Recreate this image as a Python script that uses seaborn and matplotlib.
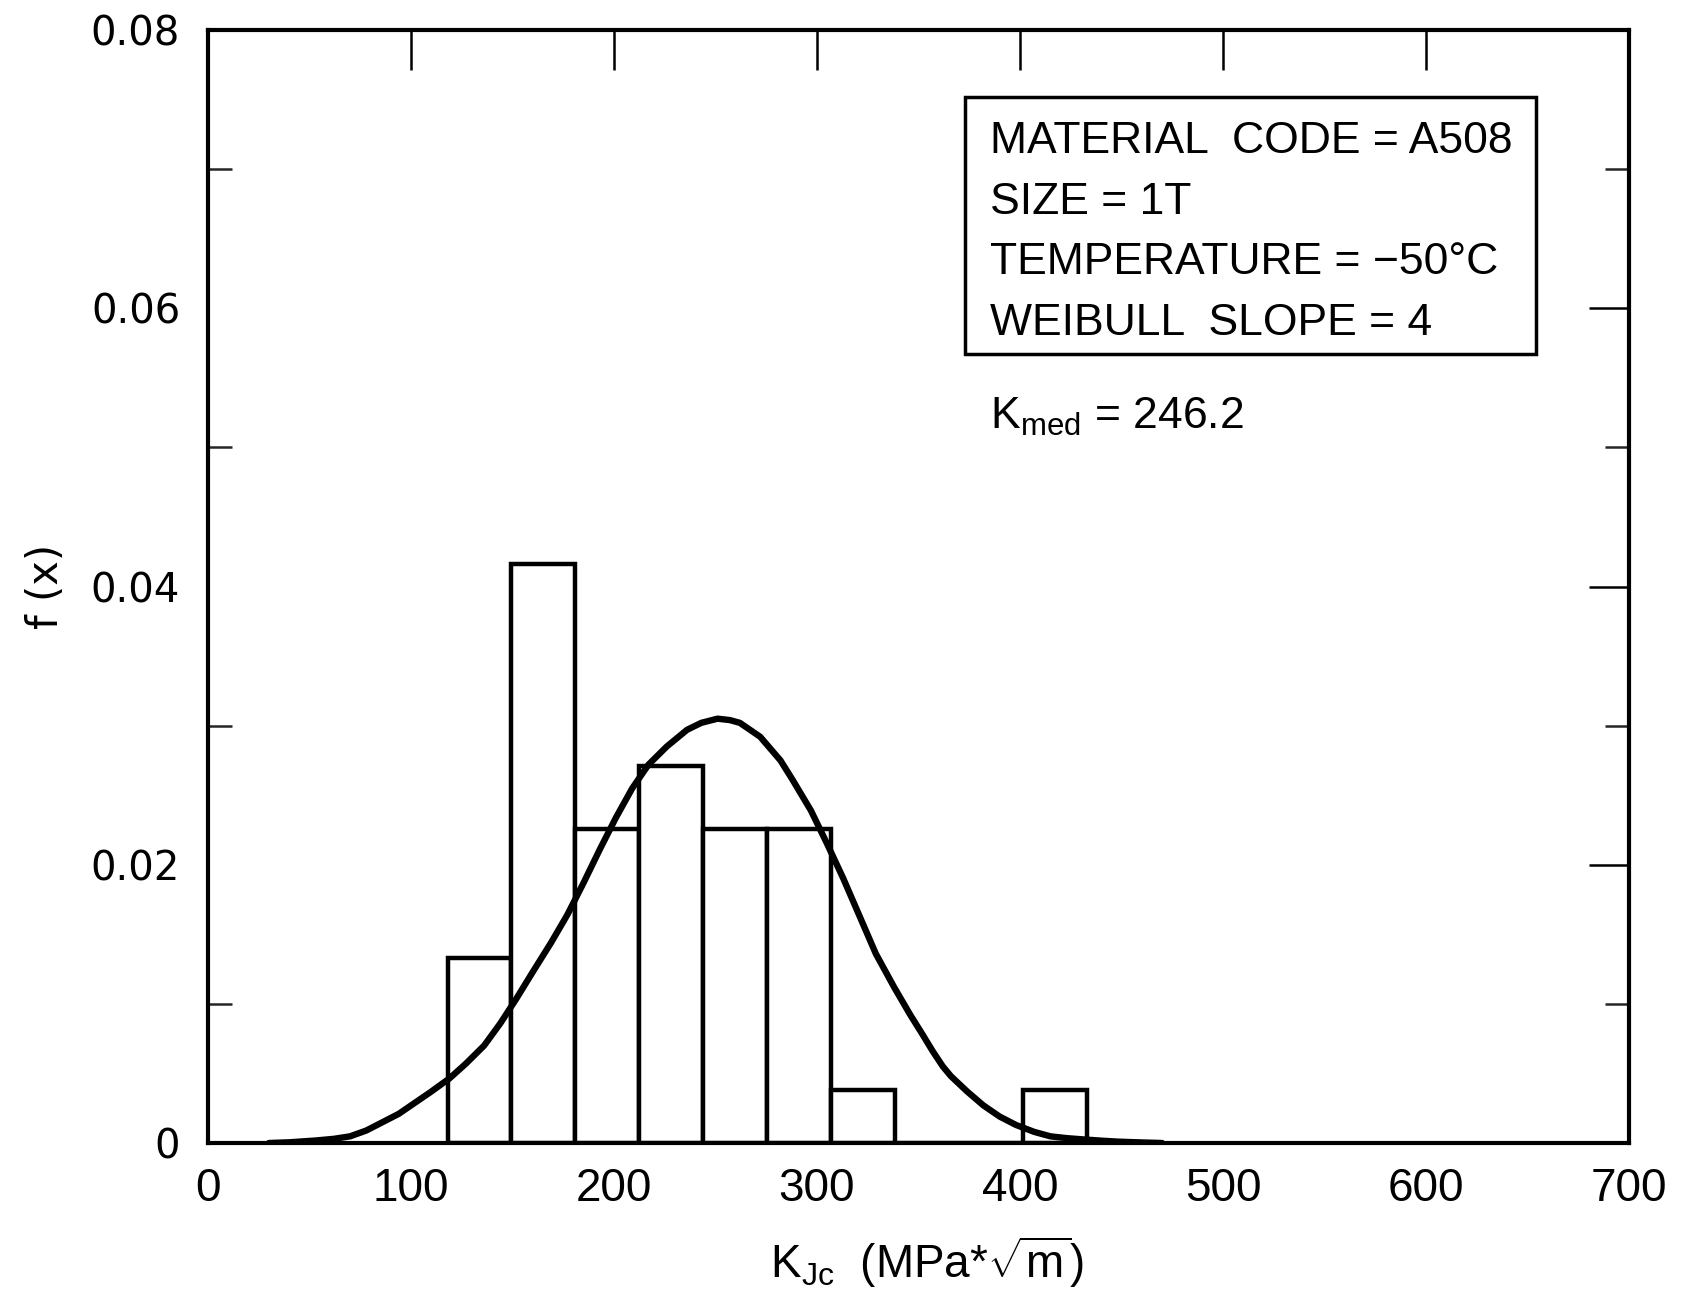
import numpy as np
import pandas as pd
import matplotlib
matplotlib.use("Agg")
import matplotlib.pyplot as plt
import seaborn as sns
from matplotlib.patches import Rectangle
from matplotlib.ticker import MultipleLocator
from matplotlib import font_manager

# ---- data ----
bin_edges = [118.0, 149.5, 181.0, 212.5, 244.0, 275.5, 307.0, 338.5, 370.0, 401.5, 433.0]
bin_heights = [0.0133, 0.0416, 0.0226, 0.0271, 0.0226, 0.0226, 0.0038, 0.0, 0.0, 0.0038]

curve_k = [30, 40, 53, 62, 70, 78, 86, 94, 101, 110, 119, 127, 136, 144, 152, 160, 169,
           177, 185, 193, 201, 209, 217, 226, 236, 243, 251, 257, 262, 272, 282, 288,
           297, 305, 313, 321, 329, 338, 346, 352, 357, 362, 366, 374, 382, 390, 398,
           407, 415, 423, 431, 440, 448, 460, 470]
curve_f = [0.0, 0.00005, 0.00018, 0.0003, 0.00048, 0.0009, 0.0015, 0.0021, 0.0028,
           0.0037, 0.00465, 0.0057, 0.0070, 0.0086, 0.0104, 0.0123, 0.0144, 0.0164,
           0.0187, 0.0211, 0.0234, 0.0255, 0.0272, 0.0285, 0.0297, 0.0302, 0.0305,
           0.0304, 0.0302, 0.0292, 0.0275, 0.0261, 0.0239, 0.0215, 0.0190, 0.0163,
           0.0136, 0.0112, 0.0092, 0.0078, 0.0066, 0.0055, 0.0048, 0.0037, 0.0027,
           0.0019, 0.0013, 0.0008, 0.00048, 0.00035, 0.00026, 0.00017, 0.0001,
           0.00004, 0.0]

x_ticks = [0, 100, 200, 300, 400, 500, 600, 700]
x_ticklabels = ["0", "100", "200", "300", "400", "500", "600", "700"]
y_ticks = [0.0, 0.02, 0.04, 0.06, 0.08]
y_ticklabels = ["0", "0.02", "0.04", "0.06", "0.08"]

info_lines = ["MATERIAL  CODE = A508", "SIZE = 1T", "TEMPERATURE = \u221250\u00b0C", "WEIBULL  SLOPE = 4"]
kmed_text = r"K$_{\mathrm{med}}$ = 246.2"
xlabel_text = r"K$_{\mathrm{Jc}}$  (MPa*$\sqrt{\mathrm{m}}$)"
ylabel_text = "f (x)"

# ---- style ----
sns.set_style("white")
plt.rcParams["font.family"] = ["DejaVu Sans"]
plt.rcParams["text.color"] = "black"
plt.rcParams["axes.labelcolor"] = "black"
available = {f.name for f in font_manager.fontManager.ttflist}
narrow = "Liberation Sans Narrow" if "Liberation Sans Narrow" in available else "Liberation Sans"
plt.rcParams["mathtext.fontset"] = "custom"
plt.rcParams["mathtext.rm"] = narrow
plt.rcParams["mathtext.it"] = narrow + ":italic"
plt.rcParams["mathtext.bf"] = narrow + ":bold"

fig = plt.figure(figsize=(16.94, 12.93), dpi=100)
ax = fig.add_axes([0.1228, 0.1160, 0.9616 - 0.1228, 0.9768 - 0.1160])

centers = [(bin_edges[i] + bin_edges[i + 1]) / 2 for i in range(len(bin_heights))]
hist_df = pd.DataFrame({"k": centers, "w": bin_heights})
sns.histplot(data=hist_df, x="k", weights="w", bins=bin_edges, stat="count",
             element="bars", fill=True, color="white", edgecolor="black",
             linewidth=3.2, alpha=1.0, ax=ax, zorder=2)

curve_df = pd.DataFrame({"k": curve_k, "f": curve_f})
sns.lineplot(data=curve_df, x="k", y="f", color="black", linewidth=4.6, ax=ax, zorder=3,
             solid_joinstyle="round", solid_capstyle="round")

ax.set_xlim(0, 700)
ax.set_ylim(0, 0.08)
ax.set_xticks(x_ticks)
ax.set_xticklabels(x_ticklabels, fontfamily=narrow, fontsize=33)
ax.set_yticks(y_ticks)
ax.set_yticklabels(y_ticklabels, fontfamily="DejaVu Sans", fontsize=29)
ax.yaxis.set_minor_locator(MultipleLocator(0.01))

ax.tick_params(axis="both", which="major", direction="in", top=True, right=True,
               labeltop=False, labelright=False, width=1.8, color="black",
               labelcolor="black")
ax.tick_params(axis="y", which="major", length=29, pad=20)
ax.tick_params(axis="x", which="major", length=29, pad=17)
ax.tick_params(axis="y", which="minor", direction="in", left=True, right=True,
               length=17, width=1.8)

for s in ax.spines.values():
    s.set_visible(True)
    s.set_linewidth(3.0)
    s.set_color("black")

ax.set_xlabel(xlabel_text, fontsize=33, fontfamily=narrow, color="black")
ax.set_ylabel(ylabel_text, fontsize=30, fontfamily="DejaVu Sans", color="black")
ax.xaxis.set_label_coords(0.506, -0.082)
ax.yaxis.set_label_coords(-0.099, 0.50)

# info box
ax.add_patch(Rectangle((0.5327, 0.7089), 0.9346 - 0.5327, 0.9398 - 0.7089,
                       transform=ax.transAxes, fill=False, edgecolor="black",
                       linewidth=2.5, zorder=4))
line_y = [0.8995, 0.8447, 0.7907, 0.7359]
for txt, yy in zip(info_lines, line_y):
    ax.text(0.5503, yy, txt, transform=ax.transAxes, fontsize=32,
            fontfamily="Liberation Sans", ha="left", va="center", color="black", zorder=5)
ax.text(0.5503, 0.652, kmed_text, transform=ax.transAxes, fontsize=32,
        fontfamily="Liberation Sans", ha="left", va="center", color="black", zorder=5)

fig.savefig("out.png", dpi=100, facecolor="white")
